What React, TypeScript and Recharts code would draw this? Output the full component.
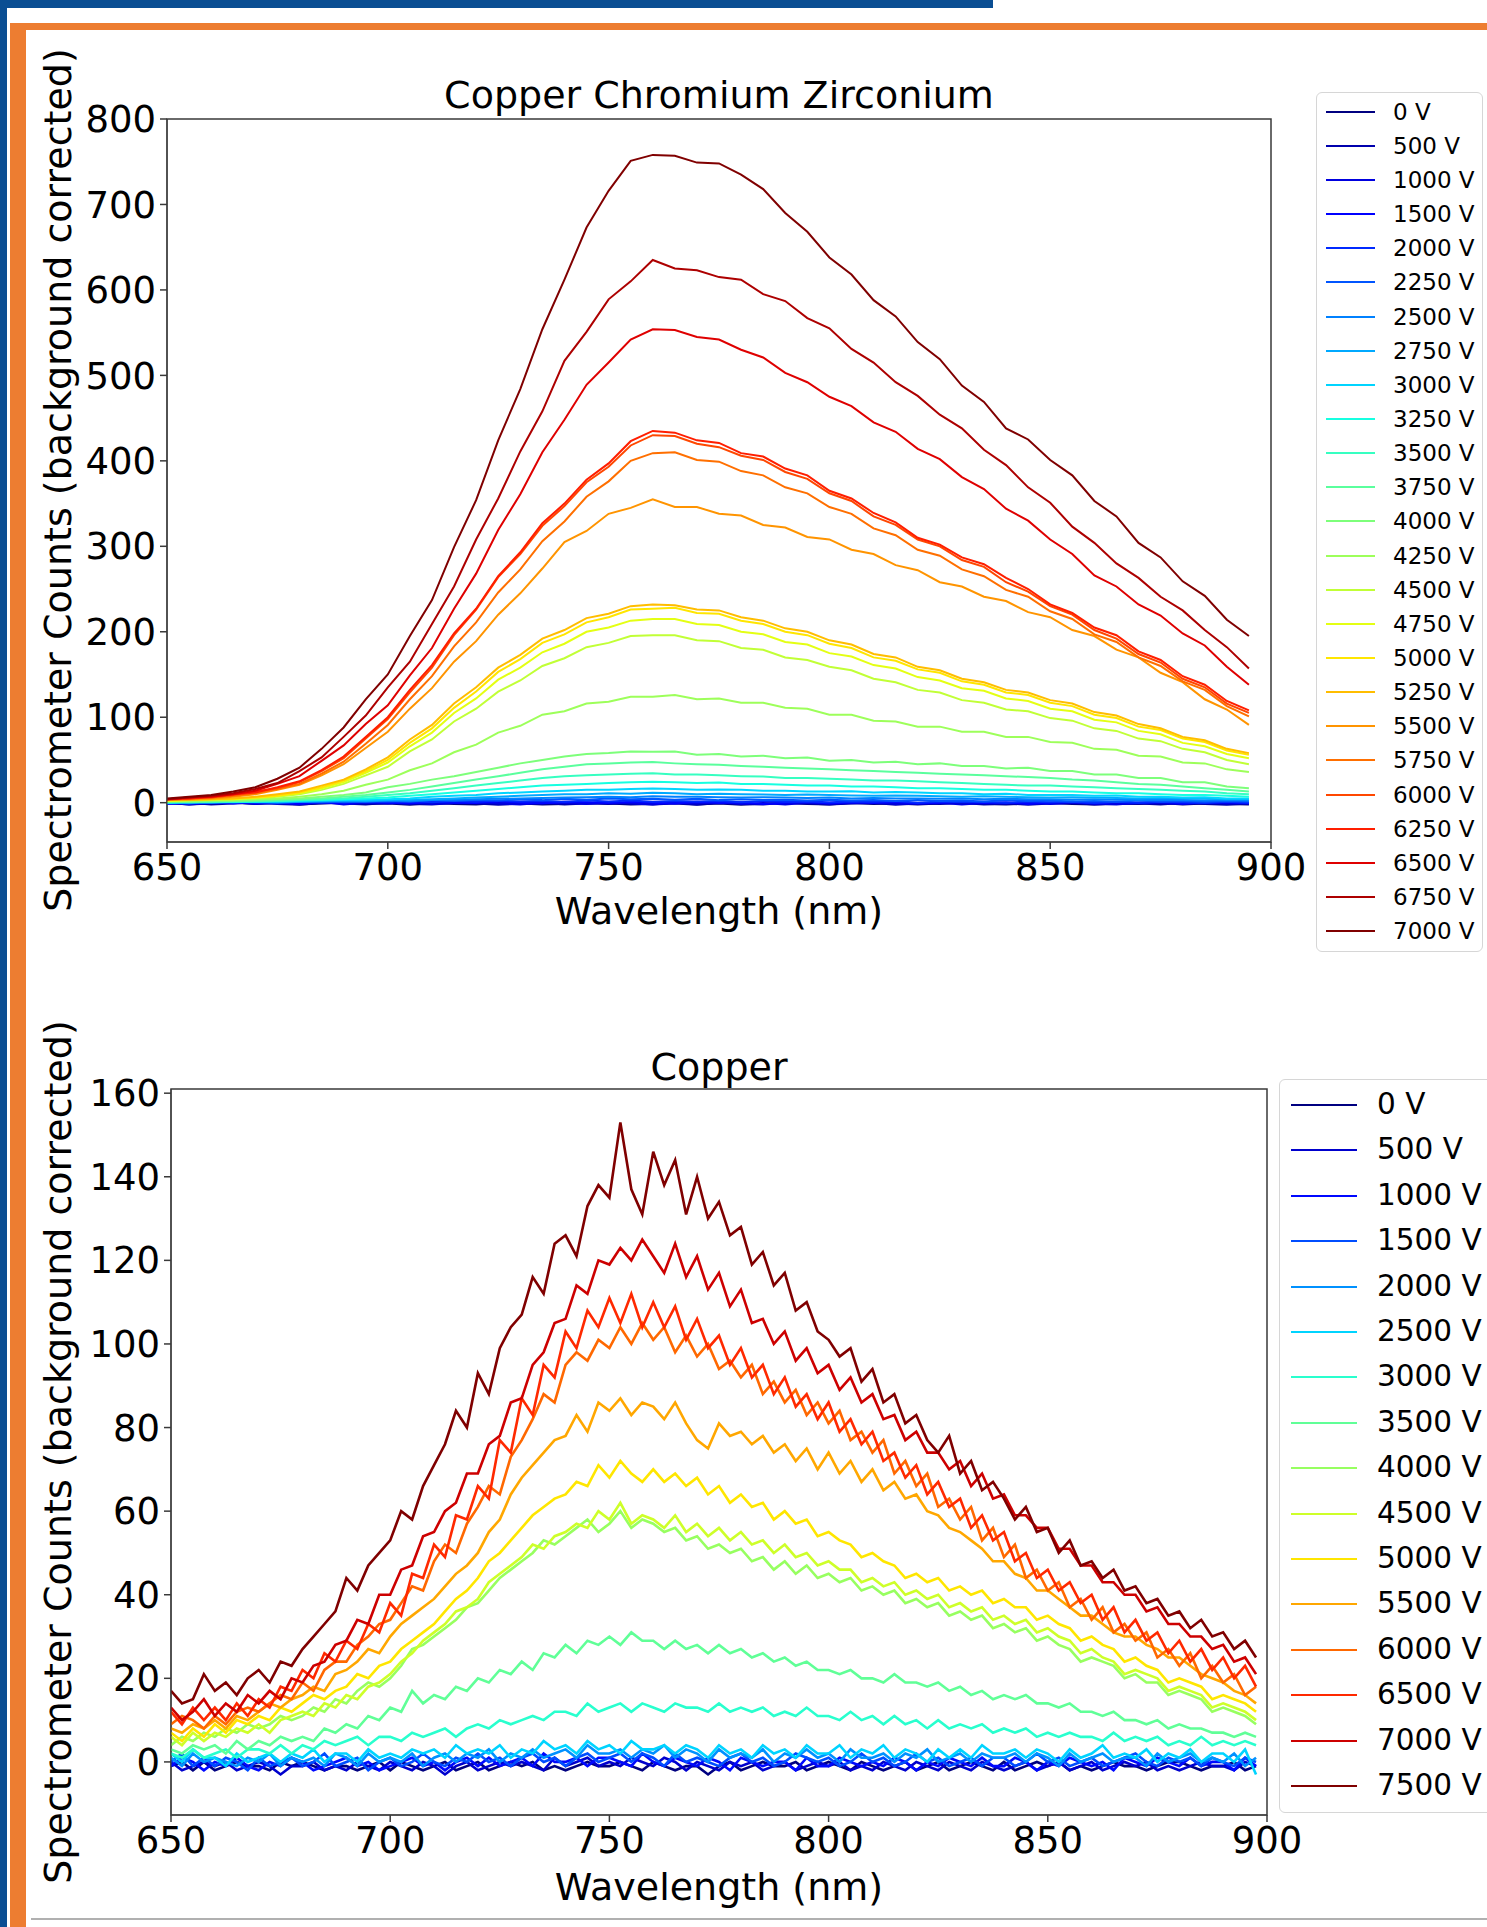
import { LineChart, Line, XAxis, YAxis, ReferenceArea } from 'recharts'

// Spectra of Copper Chromium Zirconium (top) and Copper (bottom) vs. applied voltage
const FONT = '"DejaVu Sans", "Liberation Sans", sans-serif'

// ---- top panel: wavelength grid and one array per voltage ----
const X_TOP = [650, 655, 660, 665, 670, 675, 680, 685, 690, 695, 700, 705, 710, 715, 720, 725, 730, 735, 740, 745, 750, 755, 760, 765, 770, 775, 780, 785, 790, 795, 800, 805, 810, 815, 820, 825, 830, 835, 840, 845, 850, 855, 860, 865, 870, 875, 880, 885, 890, 895]

const ccz0 = [-0.5, -2, -1, 0, -1.5, -0.5, -2, -1, 0.5, -1.5, -1, -2.5, -0.5, -1.5, -2, -0.5, -1, -2, -1.5, 0, -1, -2, -1.5, -0.5, -2, -1, -2.5, -1, -0.5, -1.5, -2, -0.5, -1.5, -1, -2, -1, 0, -1.5, -2, -1, -0.5, -1.5, -2, -1, -1.5, -0.5, -2, -1, -1.5, -2]
const ccz500 = [-1, 0, -2, -1, 0.5, -1.5, -2.5, -0.5, -1, -2, 0, -1.5, -2, -0.5, -1, -2.5, -1, 0, -2, -1, -1.5, -0.5, -2, -1, -2.5, -0.5, -1.5, -2, 0, -1, -2, -1, -0.5, -2.5, -1, -1.5, -0.5, -2, -1, -2.5, -1, -0.5, -2, -1.5, -1, -2, -0.5, -1.5, -2.5, -1]
const ccz1000 = [0, -2, -0.5, 0.5, -1.5, 0, -1, 1, -2, 0, -1, 0.5, -1.5, -0.5, 1, -1, -2, 0, -0.5, -1.5, 0.5, -1, -2, 0, -1, 1, -1.5, -0.5, -2, 0, -1, -0.5, 0.5, -1.5, -1, 0, -2, -0.5, -1, 0.5, -1.5, 0, -1, -2, 0, -0.5, -1.5, 0.5, -1, -0.5]
const ccz1500 = [-1.5, 0, 1, -1, 0.5, -0.5, -1.5, 0.5, -1, 1, 0, -1, 1, 0, -0.5, 1.5, 0, -1, 1, 0.5, -0.5, 1, 0, -1, 1, -0.5, 0.5, -1.5, 0, 1, -1, 0.5, -0.5, 1, -1, 0, 1, -0.5, 0.5, -1.5, 0, 1, -1, 0.5, -0.5, 1, -1, 0, 0.5, -1]
const ccz2000 = [-1, 0.5, -0.5, 1, 0, -1, 1, 0, 1.5, 0.5, 1, 2, 0.5, 2, 1, 2.5, 1.5, 2, 1, 2.5, 1.5, 2.5, 1, 2, 1.5, 2, 0.5, 2, 1, 1.5, 0.5, 1.5, 1, 2, 0, 1.5, 0.5, 1, 0, 1.5, 0.5, 1, -0.5, 1, 0, 1, 0.5, -0.5, 1, 0]
const ccz2250 = [0.5, -1, 1, 0, 1.5, -0.5, 1, 2, 0.5, 1.5, 2, 1, 3, 2, 3.5, 2.5, 4, 3, 4.5, 3.5, 5, 4, 4.5, 3.5, 4.5, 3, 4, 3, 3.5, 2.5, 3.5, 2.5, 3, 2, 3, 2, 2.5, 1.5, 3, 2, 2.5, 1.5, 2, 1, 2.5, 1.5, 2, 1, 2, 1.5]
const ccz2500 = [0, 0.5, -0.5, 1, 1, 0.5, 1.5, 1, 2, 1.5, 2.5, 2, 3, 3.5, 4, 4.5, 5, 5.5, 6, 6.5, 7, 6.5, 7.5, 7, 7, 6.5, 6, 6.5, 6, 5.5, 6, 5, 5.5, 5, 5, 4.5, 5, 4, 4.5, 4, 4, 3.5, 4, 3.5, 3, 3.5, 3, 2.5, 3, 2.5]
const ccz2750 = [0, 0, 0.5, 1, 1, 1.5, 1, 2, 2.5, 2, 3, 3.5, 4, 5, 6, 7, 8, 9, 10, 10, 11, 10.5, 11.5, 11, 10, 10.5, 10, 9.5, 9, 9.5, 9, 8.5, 8, 8.5, 8, 7.5, 7, 7.5, 7, 6.5, 6, 6.5, 6, 5.5, 5, 5.5, 5, 4.5, 4, 4]
const ccz3000 = [0, 0.5, 1, 1, 1.5, 1, 2, 2.5, 3, 3.5, 4, 5, 7, 8, 9, 11, 12, 13, 14, 15, 15, 16, 16.5, 16, 15, 15.5, 15, 14, 14, 13, 13, 13.5, 12, 12.5, 12, 11, 11, 10, 10.5, 9, 9, 9, 8, 8.5, 7, 7, 6, 6.5, 5, 5]
const ccz3250 = [0, 1, 1, 1.5, 1, 2, 2.5, 3, 4, 5, 6, 8, 10, 12, 14, 16, 18, 20, 21, 22, 23, 24, 24.5, 24, 23, 23.5, 22, 22, 21, 20, 20, 19, 19, 18, 17, 17, 16, 15, 15, 14, 13, 13, 12, 11, 11, 10, 9, 9, 8, 7]
const ccz3500 = [1, 0.5, 1, 1.5, 2, 2, 3, 4, 5, 7, 9, 11, 14, 17, 20, 23, 26, 29, 31, 32, 33, 34, 34.5, 33, 33, 32, 31, 30.5, 29, 29, 28, 27, 26, 26, 25, 24, 23, 22, 21, 20, 20, 19, 18, 17, 16, 15, 14, 13, 11, 10]
const ccz3750 = [1, 1, 1.5, 2, 2, 3, 4, 5, 7, 9, 12, 15, 19, 23, 27, 31, 35, 39, 42, 45, 46, 47, 47.5, 46, 45, 44.5, 43, 42, 41, 40, 39, 38, 37, 36, 35, 34, 33, 32, 31, 30, 29, 27, 26, 24, 22, 21, 19, 17, 15, 13]
const ccz4000 = [1, 1.5, 2, 2, 3, 4, 5, 7, 9, 12, 18, 22, 27, 31, 36, 41, 46, 50, 54, 57, 58, 60, 59.5, 60, 56, 57, 54, 55, 52, 53, 49, 50, 47, 48, 45, 46, 43, 43, 40, 41, 37, 37, 33, 33, 29, 29, 24, 24, 19, 17]
const ccz4250 = [2, 2, 3, 3, 4, 5, 7, 10, 14, 21, 27, 38, 46, 59, 68, 82, 90, 103, 107, 116, 118, 124, 124, 126, 121, 122, 117, 117, 111, 110, 103, 103, 96, 95, 89, 89, 83, 83, 77, 77, 71, 70, 63, 62, 55, 54, 47, 46, 39, 36]
const ccz4500 = [2, 3, 3, 4, 5, 7, 10, 15, 22, 32, 42, 60, 74, 95, 110, 130, 143, 160, 169, 182, 187, 195, 196, 196, 190, 189, 181, 179, 170, 167, 159, 155, 145, 141, 132, 129, 120, 117, 109, 107, 99, 96, 87, 84, 75, 72, 63, 59, 50, 45]
const ccz4750 = [2, 3, 4, 4, 6, 8, 11, 17, 24, 35, 47, 66, 82, 105, 122, 144, 158, 176, 186, 200, 205, 213, 215, 215, 209, 208, 200, 197, 188, 185, 175, 171, 161, 157, 147, 143, 134, 131, 122, 119, 110, 107, 97, 94, 84, 80, 70, 66, 57, 52]
const ccz5000 = [3, 3, 4, 5, 6, 8, 12, 18, 26, 37, 50, 70, 87, 111, 130, 153, 168, 187, 197, 211, 217, 226, 227, 228, 222, 221, 213, 209, 200, 196, 186, 181, 170, 166, 156, 152, 142, 138, 129, 126, 117, 113, 103, 99, 89, 85, 75, 71, 61, 56]
const ccz5250 = [3, 3, 4, 5, 7, 10, 13, 20, 27, 39, 53, 74, 91, 116, 135, 158, 173, 192, 202, 216, 221, 230, 232, 231, 226, 225, 217, 213, 204, 200, 190, 185, 174, 170, 159, 155, 145, 141, 132, 129, 120, 116, 106, 102, 92, 87, 77, 73, 63, 58]
const ccz5500 = [3, 4, 5, 7, 10, 15, 21, 32, 45, 64, 83, 110, 134, 165, 189, 220, 245, 274, 305, 318, 338, 345, 355, 346, 346, 338, 336, 325, 322, 311, 308, 296, 291, 278, 272, 258, 253, 241, 236, 223, 217, 202, 195, 179, 170, 152, 141, 121, 109, 91]
const ccz5750 = [3, 5, 6, 8, 11, 16, 22, 34, 48, 69, 91, 121, 148, 183, 211, 246, 273, 306, 329, 358, 376, 400, 409, 410, 401, 399, 388, 383, 369, 362, 346, 338, 321, 313, 296, 289, 273, 265, 249, 241, 224, 215, 197, 188, 170, 160, 142, 132, 113, 101]
const ccz6000 = [4, 5, 6, 9, 13, 17, 24, 37, 52, 75, 98, 129, 158, 196, 226, 264, 291, 324, 347, 375, 393, 418, 430, 429, 420, 416, 406, 401, 387, 379, 362, 353, 335, 325, 308, 300, 284, 276, 258, 247, 230, 220, 202, 192, 174, 164, 145, 135, 116, 105]
const ccz6250 = [4, 5, 7, 10, 12, 18, 25, 38, 54, 77, 100, 132, 161, 198, 227, 265, 293, 327, 350, 378, 397, 423, 435, 433, 424, 421, 409, 405, 391, 383, 365, 356, 339, 328, 310, 302, 287, 279, 263, 250, 232, 222, 205, 196, 177, 167, 148, 138, 119, 108]
const ccz6500 = [4, 6, 7, 10, 14, 22, 31, 49, 67, 92, 114, 149, 181, 227, 268, 319, 361, 410, 448, 489, 515, 542, 554, 553, 545, 542, 530, 521, 503, 492, 475, 464, 445, 434, 414, 402, 381, 367, 344, 330, 308, 291, 266, 253, 232, 219, 198, 184, 159, 138]
const ccz6750 = [4, 6, 8, 11, 16, 23, 37, 53, 77, 102, 135, 165, 209, 253, 308, 356, 411, 458, 517, 551, 589, 610, 635, 625, 623, 615, 612, 595, 587, 567, 555, 531, 515, 492, 476, 454, 438, 413, 395, 369, 351, 323, 304, 280, 263, 241, 225, 202, 182, 157]
const ccz7000 = [5, 7, 9, 13, 18, 28, 41, 63, 88, 121, 150, 195, 237, 299, 354, 424, 484, 554, 612, 673, 716, 751, 758, 757, 749, 748, 735, 718, 690, 668, 638, 618, 588, 569, 539, 519, 488, 469, 438, 425, 401, 383, 353, 335, 304, 287, 259, 242, 214, 195]

const CCZ_LABELS = ['0 V', '500 V', '1000 V', '1500 V', '2000 V', '2250 V', '2500 V', '2750 V', '3000 V', '3250 V', '3500 V', '3750 V', '4000 V', '4250 V', '4500 V', '4750 V', '5000 V', '5250 V', '5500 V', '5750 V', '6000 V', '6250 V', '6500 V', '6750 V', '7000 V']
const CCZ_SERIES = [ccz0, ccz500, ccz1000, ccz1500, ccz2000, ccz2250, ccz2500, ccz2750, ccz3000, ccz3250, ccz3500, ccz3750, ccz4000, ccz4250, ccz4500, ccz4750, ccz5000, ccz5250, ccz5500, ccz5750, ccz6000, ccz6250, ccz6500, ccz6750, ccz7000]

// ---- bottom panel (Copper) ----
const X_CU = [650, 652.5, 655, 657.5, 660, 662.5, 665, 667.5, 670, 672.5, 675, 677.5, 680, 682.5, 685, 687.5, 690, 692.5, 695, 697.5, 700, 702.5, 705, 707.5, 710, 712.5, 715, 717.5, 720, 722.5, 725, 727.5, 730, 732.5, 735, 737.5, 740, 742.5, 745, 747.5, 750, 752.5, 755, 757.5, 760, 762.5, 765, 767.5, 770, 772.5, 775, 777.5, 780, 782.5, 785, 787.5, 790, 792.5, 795, 797.5, 800, 802.5, 805, 807.5, 810, 812.5, 815, 817.5, 820, 822.5, 825, 827.5, 830, 832.5, 835, 837.5, 840, 842.5, 845, 847.5, 850, 852.5, 855, 857.5, 860, 862.5, 865, 867.5, 870, 872.5, 875, 877.5, 880, 882.5, 885, 887.5, 890, 892.5, 895, 897.5]

const cu0 = [-1, 0, -2, 0, -2, -1, 0, -1, -1, -2, 0, -1, 0, -1, -2, -1, -1, -2, -1, 0, -2, 0, -1, -2, -1, 0, -2, -1, 0, -2, -1, 0, -1, 0, -2, -1, -2, -1, 0, -1, -1, 0, -1, -2, 0, -1, -2, -1, -1, -3, -1, 0, -2, -1, 0, -1, -1, 0, -2, -1, 0, -1, -2, 0, -1, -2, -1, 0, -2, -1, 0, -2, -1, 0, -1, -2, 0, -2, -1, 0, -1, 0, -2, -1, -2, -1, 0, -1, -1, -2, -1, 0, 0, -1, -2, -1, -1, 0, -2, -1]
const cu500 = [0, -2, -1, 0, -1, 0, -2, -1, 0, -1, -3, -1, -1, 0, -2, -1, -2, 0, -1, -2, 0, -1, -2, 0, -1, -3, -1, 0, -2, -1, 0, -1, 0, -1, -2, 1, -1, 0, 1, -1, 0, -1, 1, 0, -1, 1, 0, -2, 0, -1, -2, 0, -1, 0, -2, -1, 0, -2, -1, 0, -1, 0, -2, -1, -2, 0, -1, -2, 0, -1, -2, 0, -1, -2, 0, -1, -2, -1, 0, -2, -1, 0, -2, -1, 0, -2, -1, 0, -1, 0, -2, -1, -2, -1, 0, -1, -1, -2, 0, -1]
const cu1000 = [-1, 1, 0, -2, 0, -1, 1, -1, -2, 0, -1, 1, 0, -2, -1, 0, 1, -1, 0, -2, -1, 0, 1, -1, 0, -2, 0, 1, -1, 1, -1, 0, 1, -1, 2, 0, 0, 1, -1, 1, 1, 0, -1, 2, 0, -1, 1, 0, -1, 1, 0, -2, 1, 0, -1, 0, 0, -2, 1, -1, -1, 1, 0, -1, 0, -1, 1, 0, -2, 0, -1, 1, 0, -1, 1, -1, -1, 1, 0, -2, 0, -1, 1, 0, -1, 0, -2, 1, 0, -1, 1, 0, -1, 1, -1, 0, 0, -2, 1, -1]
const cu1500 = [0, 2, -1, 1, -1, 1, 0, -2, 1, -1, 0, 1, -1, 0, 2, -1, 0, 1, -2, 0, 1, -1, 0, 2, 0, -1, 1, 0, 2, 0, 1, -1, 1, 2, 0, 1, -1, 1, 2, 0, 1, 2, 0, 2, 1, -1, 2, 0, 1, 0, -1, 1, 2, 0, 1, -1, 0, 2, 1, 0, 1, -1, 0, 2, 0, 1, -1, 0, 2, 0, 1, -1, 0, 1, -1, 1, 1, -1, 0, 2, 0, 1, -1, 0, 1, -1, 0, 1, 2, 0, -1, 1, 0, 1, -1, 1, 0, -1, 1, 0]
const cu2000 = [1, -1, 2, 0, 1, 0, -1, 1, 0, 2, -1, 1, 0, 1, -1, 2, 1, -1, 2, 0, 1, 0, 2, -1, 1, 2, 0, 2, 1, 3, 0, 2, 1, 3, 1, 2, 3, 1, 4, 2, 2, 3, 1, 3, 2, 4, 1, 3, 2, 0, 3, 1, 2, 1, 3, 0, 2, 1, 3, 1, 2, 0, 3, 1, 1, 2, 0, 2, 1, 3, 0, 1, 2, 0, 2, 1, 1, 2, 0, 2, 1, -1, 2, 0, 1, 2, 0, 1, 1, -1, 2, 0, 1, 2, 0, 1, 0, 2, -1, 1]
const cu2500 = [2, 0, 3, 1, 1, -1, 2, 0, 1, 2, 0, 2, 1, 3, 0, 2, 2, 0, 3, 1, 2, 1, 3, 2, 3, 1, 4, 2, 3, 2, 4, 1, 3, 2, 5, 3, 4, 2, 5, 3, 4, 2, 5, 3, 3, 4, 2, 4, 3, 1, 4, 2, 3, 1, 4, 2, 3, 1, 4, 2, 2, 4, 1, 3, 2, 4, 1, 3, 2, 0, 3, 1, 3, 1, 4, 2, 2, 3, 1, 3, 2, 0, 3, 1, 2, 4, 1, 2, 1, 3, 0, 2, 1, 3, 0, 2, 2, 0, 3, -3]
const cu3000 = [2, 1, 3, 1, 2, 3, 1, 3, 3, 2, 4, 2, 4, 3, 5, 4, 5, 6, 4, 6, 6, 5, 7, 6, 7, 8, 6, 8, 9, 8, 10, 9, 10, 11, 10, 12, 12, 11, 14, 12, 13, 14, 12, 14, 13, 12, 14, 13, 13, 12, 14, 12, 13, 12, 13, 11, 12, 11, 13, 11, 11, 10, 12, 10, 11, 9, 11, 9, 10, 8, 10, 8, 9, 8, 9, 7, 8, 7, 8, 6, 7, 6, 7, 6, 6, 5, 7, 5, 6, 5, 6, 4, 5, 4, 6, 4, 5, 4, 5, 4]
const cu3500 = [3, 2, 4, 3, 4, 2, 5, 3, 5, 4, 6, 5, 6, 5, 8, 7, 9, 8, 11, 10, 13, 12, 17, 14, 16, 15, 18, 17, 20, 19, 22, 21, 24, 22, 26, 25, 28, 26, 29, 28, 30, 28, 31, 29, 29, 27, 29, 27, 28, 26, 28, 26, 27, 25, 26, 24, 25, 23, 24, 22, 22, 21, 22, 20, 20, 19, 21, 19, 19, 18, 19, 17, 18, 16, 17, 15, 16, 15, 16, 14, 14, 13, 14, 12, 12, 11, 12, 10, 10, 9, 10, 8, 9, 8, 8, 7, 7, 6, 7, 6]
const cu4000 = [4, 6, 5, 7, 6, 8, 7, 9, 8, 9, 11, 10, 11, 13, 12, 15, 14, 17, 19, 18, 20, 23, 27, 28, 30, 32, 34, 37, 38, 41, 44, 46, 48, 50, 53, 52, 54, 56, 58, 55, 57, 60, 56, 58, 57, 55, 56, 53, 54, 51, 52, 50, 51, 48, 49, 46, 48, 45, 47, 44, 45, 43, 44, 41, 42, 40, 41, 38, 39, 37, 38, 35, 36, 34, 35, 32, 33, 31, 32, 29, 30, 28, 27, 24, 25, 24, 23, 20, 21, 19, 19, 16, 17, 16, 15, 12, 13, 12, 11, 9]
const cu4500 = [6, 4, 7, 5, 7, 6, 8, 7, 9, 7, 10, 11, 12, 11, 14, 13, 16, 15, 18, 19, 21, 24, 26, 29, 31, 33, 36, 37, 39, 43, 45, 47, 49, 52, 51, 54, 55, 57, 56, 60, 58, 62, 57, 59, 58, 56, 59, 55, 57, 54, 56, 53, 55, 52, 53, 50, 52, 49, 50, 47, 48, 46, 46, 43, 44, 42, 43, 40, 41, 39, 40, 37, 38, 36, 37, 34, 35, 33, 34, 31, 32, 30, 29, 26, 27, 25, 24, 21, 22, 21, 20, 17, 18, 17, 16, 13, 14, 13, 12, 10]
const cu5000 = [7, 5, 8, 6, 9, 7, 10, 9, 11, 10, 13, 12, 14, 16, 15, 17, 18, 21, 20, 23, 24, 27, 29, 31, 33, 36, 39, 41, 44, 48, 50, 53, 56, 59, 61, 63, 64, 67, 66, 71, 68, 72, 69, 67, 70, 67, 69, 66, 68, 64, 66, 62, 64, 61, 62, 58, 60, 57, 58, 54, 55, 53, 52, 49, 50, 48, 47, 44, 45, 43, 44, 41, 42, 40, 41, 38, 39, 37, 37, 34, 35, 33, 32, 29, 30, 28, 27, 24, 25, 23, 22, 19, 20, 19, 18, 15, 16, 15, 14, 12]
const cu5500 = [8, 7, 9, 8, 10, 8, 11, 10, 12, 14, 13, 15, 16, 18, 17, 21, 22, 24, 27, 26, 30, 33, 35, 37, 39, 42, 45, 47, 50, 55, 58, 64, 68, 71, 74, 77, 78, 83, 79, 86, 84, 87, 83, 86, 85, 82, 86, 81, 77, 75, 81, 78, 79, 76, 78, 74, 76, 72, 75, 70, 74, 69, 72, 67, 70, 65, 67, 63, 64, 60, 59, 56, 55, 53, 51, 48, 48, 45, 44, 41, 41, 39, 37, 35, 35, 33, 31, 30, 30, 28, 27, 25, 25, 23, 21, 20, 19, 17, 16, 14]
const cu6000 = [9, 11, 10, 8, 11, 9, 12, 13, 12, 14, 16, 15, 19, 17, 22, 24, 24, 28, 30, 33, 34, 38, 42, 41, 48, 52, 50, 57, 61, 66, 64, 73, 77, 82, 88, 86, 95, 98, 96, 101, 99, 104, 100, 105, 101, 104, 98, 102, 97, 100, 94, 96, 92, 95, 88, 91, 86, 89, 83, 86, 81, 84, 77, 79, 74, 77, 69, 72, 66, 69, 61, 63, 58, 61, 53, 56, 49, 52, 44, 46, 41, 43, 37, 39, 34, 37, 31, 33, 29, 31, 25, 27, 23, 26, 20, 23, 19, 21, 16, 18]
const cu6500 = [12, 9, 13, 10, 13, 10, 14, 11, 15, 13, 18, 17, 22, 20, 26, 24, 29, 27, 33, 31, 38, 35, 45, 44, 52, 49, 59, 58, 66, 63, 77, 74, 87, 83, 95, 92, 103, 99, 108, 104, 111, 105, 112, 104, 110, 104, 109, 101, 106, 99, 102, 95, 99, 92, 95, 88, 92, 85, 88, 82, 86, 79, 82, 76, 79, 72, 74, 68, 71, 64, 67, 61, 63, 56, 59, 53, 55, 48, 50, 44, 46, 41, 43, 38, 40, 34, 37, 31, 34, 29, 31, 26, 29, 24, 27, 22, 25, 20, 23, 18]
const cu7000 = [13, 10, 12, 15, 11, 14, 12, 16, 14, 17, 15, 20, 19, 23, 24, 28, 29, 34, 33, 40, 40, 46, 47, 54, 55, 60, 62, 69, 69, 76, 78, 86, 87, 95, 98, 105, 106, 114, 112, 120, 119, 123, 120, 125, 121, 117, 124, 116, 121, 113, 117, 109, 113, 105, 106, 100, 103, 96, 99, 93, 95, 89, 92, 86, 88, 82, 83, 77, 79, 74, 74, 70, 72, 66, 69, 63, 64, 59, 59, 56, 56, 51, 51, 47, 47, 43, 43, 40, 40, 36, 37, 33, 33, 30, 30, 27, 28, 24, 25, 21]
const cu7500 = [17, 14, 15, 21, 17, 19, 16, 20, 22, 19, 24, 23, 27, 30, 33, 36, 44, 41, 47, 50, 53, 60, 58, 66, 71, 76, 84, 80, 93, 88, 99, 104, 107, 116, 112, 124, 126, 121, 133, 138, 135, 153, 137, 131, 146, 138, 144, 131, 140, 130, 134, 126, 128, 119, 122, 114, 117, 108, 110, 103, 101, 97, 99, 91, 94, 86, 88, 81, 83, 77, 74, 78, 69, 72, 65, 67, 63, 58, 61, 55, 56, 50, 53, 47, 48, 44, 46, 41, 42, 38, 39, 35, 36, 32, 34, 30, 31, 27, 29, 25]

const CU_LABELS = ['0 V', '500 V', '1000 V', '1500 V', '2000 V', '2500 V', '3000 V', '3500 V', '4000 V', '4500 V', '5000 V', '5500 V', '6000 V', '6500 V', '7000 V', '7500 V']
const CU_SERIES = [cu0, cu500, cu1000, cu1500, cu2000, cu2500, cu3000, cu3500, cu4000, cu4500, cu5000, cu5500, cu6000, cu6500, cu7000, cu7500]

const X_TICKS = [650, 700, 750, 800, 850, 900]
const CCZ_Y_TICKS = [0, 100, 200, 300, 400, 500, 600, 700, 800]
const CU_Y_TICKS = [0, 20, 40, 60, 80, 100, 120, 140, 160]

// matplotlib "jet" colormap (256 steps)
const JET_R = [[0, 0], [0.35, 0], [0.66, 1], [0.89, 1], [1, 0.5]]
const JET_G = [[0, 0], [0.125, 0], [0.375, 1], [0.64, 1], [0.91, 0], [1, 0]]
const JET_B = [[0, 0.5], [0.11, 1], [0.34, 1], [0.65, 0], [1, 0]]

function seg(pts: number[][], v: number) {
  for (let k = 1; k < pts.length; k++) {
    if (v <= pts[k][0]) {
      const [x0, y0] = pts[k - 1]
      const [x1, y1] = pts[k]
      return y0 + ((y1 - y0) * (v - x0)) / (x1 - x0)
    }
  }
  return pts[pts.length - 1][1]
}

function jet(t: number) {
  const v = Math.min(255, Math.floor(t * 256)) / 255
  const c = (p: number[][]) => Math.round(seg(p, v) * 255)
  return `rgb(${c(JET_R)},${c(JET_G)},${c(JET_B)})`
}

function buildRows(xs: number[], series: number[][]) {
  return xs.map((nm, i) => {
    const row: Record<string, number> = { nm }
    series.forEach((s, k) => {
      row['s' + k] = s[i]
    })
    return row
  })
}

type PanelProps = {
  top: number
  height: number
  plotLeft: number
  plotRight: number
  plotTop: number
  plotBottom: number
  yDomain: [number, number]
  yTicks: number[]
  rows: Record<string, number>[]
  colors: string[]
  strokeWidth: number
}

const AXIS = '#3a3a3a'
const TICK_STYLE = { fontSize: 37, fill: '#000', fontFamily: FONT }

function SpectrumPanel(p: PanelProps) {
  return (
    <div style={{ position: 'absolute', left: 0, top: p.top }}>
      <LineChart
        width={1487}
        height={p.height}
        data={p.rows}
        margin={{ top: p.plotTop - p.top, right: 1487 - p.plotRight, bottom: 0, left: 0 }}
      >
        <XAxis
          dataKey="nm"
          type="number"
          domain={[650, 900]}
          ticks={X_TICKS}
          interval={0}
          allowDataOverflow
          height={p.top + p.height - p.plotBottom}
          tick={TICK_STYLE}
          tickSize={7}
          tickMargin={5}
          stroke={AXIS}
          tickLine={{ stroke: AXIS, strokeWidth: 1.5 }}
        />
        <YAxis
          type="number"
          domain={p.yDomain}
          ticks={p.yTicks}
          interval={0}
          allowDataOverflow
          width={p.plotLeft}
          tick={TICK_STYLE}
          tickSize={7}
          tickMargin={4}
          stroke={AXIS}
          tickLine={{ stroke: AXIS, strokeWidth: 1.5 }}
        />
        {p.colors.map((c, k) => (
          <Line
            key={k}
            type="linear"
            dataKey={'s' + k}
            stroke={c}
            strokeWidth={p.strokeWidth}
            dot={false}
            activeDot={false}
            isAnimationActive={false}
          />
        ))}
        <ReferenceArea
          x1={650}
          x2={900}
          y1={p.yDomain[0]}
          y2={p.yDomain[1]}
          fill="none"
          stroke={AXIS}
          strokeWidth={1.5}
          ifOverflow="visible"
        />
      </LineChart>
    </div>
  )
}

type LegendProps = {
  left: number
  top: number
  width: number
  height: number
  firstRow: number
  rowGap: number
  lineX0: number
  lineX1: number
  textX: number
  fontSize: number
  labels: string[]
  colors: string[]
}

function LegendBox(l: LegendProps) {
  return (
    <div
      style={{
        position: 'absolute',
        left: l.left,
        top: l.top,
        width: l.width,
        height: l.height,
        border: '1.5px solid #d6d6d6',
        borderRadius: 6,
        background: 'rgba(255,255,255,0.8)',
        boxSizing: 'border-box',
      }}
    >
      {l.labels.map((lab, i) => {
        const cy = l.firstRow + i * l.rowGap
        return (
          <div key={lab}>
            <div
              style={{
                position: 'absolute',
                left: l.lineX0,
                top: cy - 1,
                width: l.lineX1 - l.lineX0,
                height: 2,
                background: l.colors[i],
              }}
            />
            <div
              style={{
                position: 'absolute',
                left: l.textX,
                top: cy,
                transform: 'translateY(-50%)',
                fontSize: l.fontSize,
                lineHeight: 1,
                whiteSpace: 'nowrap',
                color: '#000',
              }}
            >
              {lab}
            </div>
          </div>
        )
      })}
    </div>
  )
}

function Caption({ x, y, size, text, rotate }: { x: number; y: number; size: number; text: string; rotate?: boolean }) {
  return (
    <div
      style={{
        position: 'absolute',
        left: x,
        top: y,
        transform: `translate(-50%, -50%)${rotate ? ' rotate(-90deg)' : ''}`,
        fontSize: size,
        lineHeight: 1,
        whiteSpace: 'nowrap',
        color: '#000',
      }}
    >
      {text}
    </div>
  )
}

export default function App() {
  const cczColors = CCZ_SERIES.map((_, i) => jet(i / (CCZ_SERIES.length - 1)))
  const cuColors = CU_SERIES.map((_, i) => jet(i / (CU_SERIES.length - 1)))
  const cczRows = buildRows(X_TOP, CCZ_SERIES)
  const cuRows = buildRows(X_CU, CU_SERIES)

  return (
    <div
      style={{
        position: 'absolute',
        left: 0,
        top: 0,
        width: 1487,
        height: 1927,
        overflow: 'hidden',
        background: '#fff',
        fontFamily: FONT,
      }}
    >
      {/* slide frame */}
      <div style={{ position: 'absolute', left: 0, top: 0, width: 993, height: 8, background: '#0a4e93' }} />
      <div style={{ position: 'absolute', left: 0, top: 0, width: 7, height: 1927, background: '#0a4e93' }} />
      <div style={{ position: 'absolute', left: 10, top: 23, width: 1477, height: 7, background: '#ed7d31' }} />
      <div style={{ position: 'absolute', left: 10, top: 23, width: 16, height: 1904, background: '#ed7d31' }} />
      <div style={{ position: 'absolute', left: 31, top: 1918, width: 1456, height: 2, background: '#b0b0b0' }} />

      <SpectrumPanel
        top={40}
        height={920}
        plotLeft={167}
        plotRight={1271}
        plotTop={119}
        plotBottom={842}
        yDomain={[-46, 800]}
        yTicks={CCZ_Y_TICKS}
        rows={cczRows}
        colors={cczColors}
        strokeWidth={2}
      />
      <Caption x={719} y={95} size={38} text="Copper Chromium Zirconium" />
      <Caption x={719} y={911} size={38} text="Wavelength (nm)" />
      <Caption x={58} y={480} size={38} text="Spectrometer Counts (background corrected)" rotate />
      <LegendBox
        left={1316}
        top={92}
        width={167}
        height={860}
        firstRow={18.6}
        rowGap={34.15}
        lineX0={9}
        lineX1={58}
        textX={76}
        fontSize={23}
        labels={CCZ_LABELS}
        colors={cczColors}
      />

      <SpectrumPanel
        top={980}
        height={947}
        plotLeft={171}
        plotRight={1267}
        plotTop={1089}
        plotBottom={1815}
        yDomain={[-12.7, 161]}
        yTicks={CU_Y_TICKS}
        rows={cuRows}
        colors={cuColors}
        strokeWidth={2.6}
      />
      <Caption x={719} y={1067} size={38} text="Copper" />
      <Caption x={719} y={1887} size={38} text="Wavelength (nm)" />
      <Caption x={58} y={1452} size={38} text="Spectrometer Counts (background corrected)" rotate />
      <LegendBox
        left={1279}
        top={1079}
        width={214}
        height={734}
        firstRow={25}
        rowGap={45.4}
        lineX0={11}
        lineX1={77}
        textX={97}
        fontSize={29.5}
        labels={CU_LABELS}
        colors={cuColors}
      />
    </div>
  )
}
